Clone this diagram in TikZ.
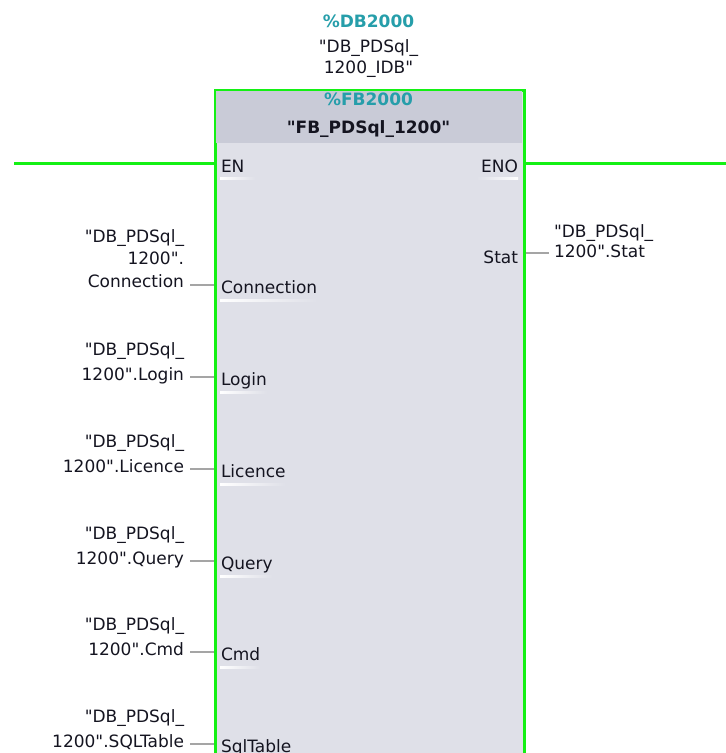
\documentclass[tikz,border=0pt]{standalone}
\usepackage{fontspec}
\newfontfamily\djv{DejaVu Sans}
\definecolor{teal2}{RGB}{38,158,170}
\definecolor{txt}{RGB}{20,20,32}
\definecolor{hdr}{RGB}{201,203,215}
\definecolor{body}{RGB}{223,224,232}
\definecolor{grn}{RGB}{20,240,20}
\definecolor{wire}{RGB}{165,165,165}
\tikzset{
  lbl/.style={inner sep=0pt, outer sep=0pt, text=txt, font=\djv\fontsize{17}{20}\selectfont},
  pinl/.style={lbl},
  tealt/.style={inner sep=0pt, text=teal2, font=\djv\fontsize{17}{20}\selectfont\bfseries},
  wirel/.style={draw=wire, line width=2pt},
  enl/.style={draw=grn, line width=3pt},
}
\begin{document}
\begin{tikzpicture}[x=1pt,y=-1pt]
\useasboundingbox (0,0) rectangle (726,753);
% block
\node[draw=grn, line width=3pt, fill=body, anchor=north west, minimum width=309pt, minimum height=700pt, inner sep=0pt] (fb) at (214,89) {};
\fill[hdr] (215.5,90.5) rectangle (521.5,143);
% header texts
\node[tealt, anchor=base] (db) at (368.5,27) {\%DB2000};
\node[lbl, anchor=base] (idb1) at (368.5,52) {"DB\_PDSql\_};
\node[lbl, anchor=base] (idb2) at (368.5,73) {1200\_IDB"};
\node[tealt, anchor=base] (fbn) at (368.5,105) {\%FB2000};
\node[lbl, anchor=base, font=\djv\fontsize{17}{20}\selectfont\bfseries] (fbt) at (368.5,133) {"FB\_PDSql\_1200"};
% EN / ENO
\coordinate (enl) at (14,163);
\coordinate (enor) at (726,163);
\draw[enl] (enl) -- (fb.west |- enl);
\draw[enl] (fb.east |- enor) -- (enor);
\node[pinl, anchor=base west] (en) at (221,172) {EN};
\node[pinl, anchor=base east] (eno) at (518,172) {ENO};
\shade[left color=white, right color=body] (220,177.5) rectangle (255,179);
\shade[left color=body, right color=white] (477,177.5) rectangle (518,179);
% Stat output
\node[pinl, anchor=base east] (stat) at (518,263) {Stat};
\node[lbl, anchor=base west] (st1) at (554,237) {"DB\_PDSql\_};
\node[lbl, anchor=base west] (st2) at (554,257) {1200".Stat};
\draw[wirel] (fb.east |- 0,253) -- (549,253);
% inputs
\foreach \nm/\W/\lastl in {login/377/{1200".Login},licence/469/{1200".Licence},query/561/{1200".Query},cmd/652/{1200".Cmd},sqltable/744/{1200".SQLTable}}{
  \node[lbl, anchor=base east] (\nm a) at (184,\W-22) {"DB\_PDSql\_};
  \node[lbl, anchor=base east] (\nm b) at (184,\W+3) {\lastl};
}
\node[lbl, anchor=base east] (conna) at (184,242) {"DB\_PDSql\_};
\node[lbl, anchor=base east] (connb) at (184,264) {1200".};
\node[lbl, anchor=base east] (connc) at (184,287) {Connection};
% pin labels
\foreach \nm/\W/\txt in {connection/285/Connection,loginp/377/Login,licencep/469/Licence,queryp/561/Query,cmdp/652/Cmd,sqltablep/744/SqlTable}{
  \node[pinl, anchor=base west] (\nm) at (221,\W+8) {\txt};
  \shade[left color=white, right color=body] (\nm.base west) ++(-1,6.5) rectangle ([yshift=-8pt]\nm.base east);
  \coordinate (\nm w) at (190,\W);
  \draw[wirel] (\nm w) -- (fb.west |- \nm w);
}
\end{tikzpicture}
\end{document}
